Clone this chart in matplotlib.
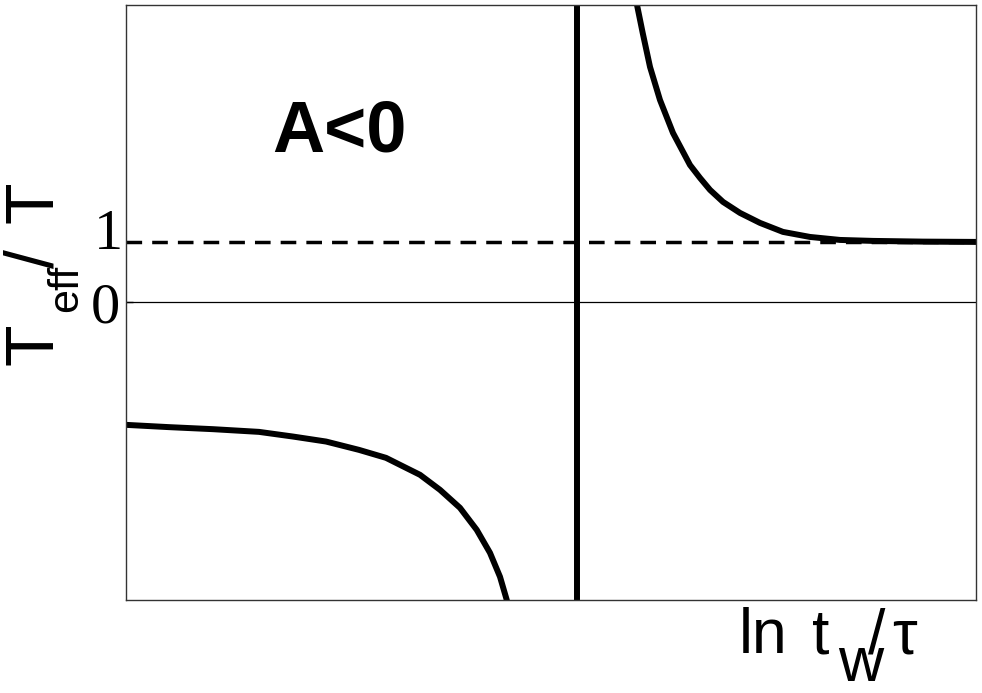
import matplotlib
matplotlib.use("Agg")
import matplotlib.pyplot as plt
from matplotlib.transforms import offset_copy, blended_transform_factory

# ---- data (arbitrary units: y=0 and y=1 reference levels) ----
lower_x = [0.000, 0.506, 1.024, 1.565, 1.965, 2.353, 2.741, 3.059, 3.224, 3.459,
           3.694, 3.929, 4.126, 4.282, 4.400, 4.479, 4.494]
lower_y = [-2.050, -2.088, -2.122, -2.167, -2.245, -2.328, -2.467, -2.600, -2.717, -2.883,
           -3.133, -3.433, -3.800, -4.183, -4.583, -4.967, -5.067]
upper_x = [6.000, 6.079, 6.165, 6.282, 6.435, 6.635, 6.753, 6.871, 7.024, 7.224,
           7.459, 7.729, 8.047, 8.400, 8.788, 9.376, 10.000]
upper_y = [5.033, 4.483, 3.917, 3.367, 2.817, 2.283, 2.067, 1.867, 1.667, 1.483,
           1.317, 1.167, 1.083, 1.033, 1.017, 1.005, 1.000]
divergence_x = 5.306
ytick_vals = [1, 0]
ytick_labels = ["1", "0"]

W, H = 982, 693
fig = plt.figure(figsize=(W / 100, H / 100), dpi=100)
ax = fig.add_axes([126 / W, 1 - 600 / H, (976 - 126) / W, (600 - 5) / H])
ax.set_xlim(0, 10)
ax.set_ylim(-4.97, 4.95)

LW = 4.3
ax.axhline(0, color='black', lw=0.9)
ax.axhline(1, color='black', lw=2.5, ls=(0, (4.5, 2.9)))
ax.axvline(divergence_x, color='black', lw=LW)
ax.plot(lower_x, lower_y, color='black', lw=LW, solid_capstyle='butt')
ax.plot(upper_x, upper_y, color='black', lw=LW, solid_capstyle='butt')

ax.set_xticks([])
ax.set_yticks(ytick_vals)
ax.set_yticklabels([])
ax.tick_params(axis='y', direction='in', length=5, width=1)
for s in ax.spines.values():
    s.set_linewidth(1.0)
    s.set_color('#333333')

# tick labels (serif), placed next to the ticks
label_offsets = [7, -7]  # pixels up
label_right = [123, 120]
ytrans = blended_transform_factory(fig.transFigure, ax.transData)
for val, lab, dy, xr in zip(ytick_vals, ytick_labels, label_offsets, label_right):
    tr = offset_copy(ytrans, fig=fig, x=0, y=dy, units='dots')
    fig.text(xr / W, val, lab, transform=tr, fontsize=42,
             family='Liberation Serif', ha='right', va='center')


def px(x, y):
    return x / W, 1 - y / H


sans = 'Liberation Sans'

# panel label
fig.text(*px(272, 152), "A<0", fontsize=52, fontweight='bold', family=sans,
         ha='left', va='baseline')

# y label: T_eff / T (rotated)
ykw = dict(rotation=90, rotation_mode='anchor', ha='left', va='baseline', family=sans)
fig.text(*px(53, 365), "T", fontsize=49, **ykw)
fig.text(*px(77, 312), "eff", fontsize=31, **ykw)
fig.text(*px(53, 268), "/", fontsize=49, **ykw)
fig.text(*px(53, 223), "T", fontsize=49, **ykw)

# x label: ln t_w / tau
xkw = dict(ha='left', va='baseline', family=sans, fontsize=45)
fig.text(*px(739, 653), "ln", **xkw)
fig.text(*px(812, 653), "t", **xkw)
fig.text(*px(838, 681), "w", **xkw)
fig.text(*px(868, 653), "/", **xkw)
fig.text(*px(892, 653), "τ", **xkw)

fig.savefig("out.png", dpi=100)
